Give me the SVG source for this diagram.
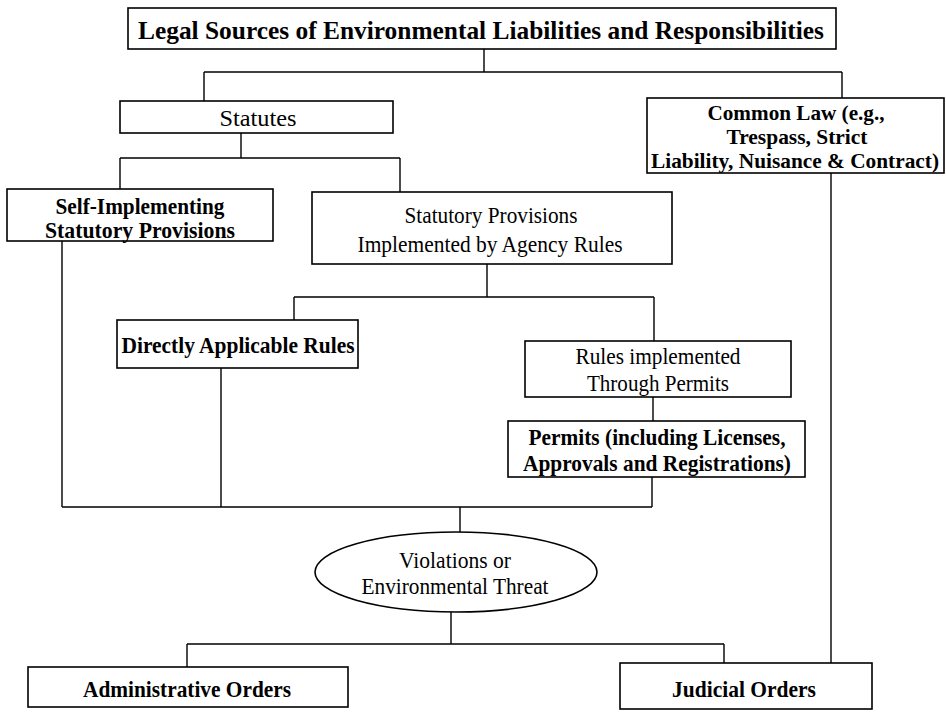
<svg xmlns="http://www.w3.org/2000/svg" width="946" height="713" viewBox="0 0 946 713">
<style>
.box{fill:#fff;stroke:#000;stroke-width:1.6}
.t{font-family:"Liberation Serif","Times New Roman",serif;font-size:23.5px;fill:#000;text-anchor:middle}
.b{font-weight:bold}
.cl{font-size:21px}
.c{fill:none;stroke:#000;stroke-width:1.4}
</style>
<rect width="946" height="713" fill="#fff"/>
<g id="connectors" class="c">
<path d="M484,49V72M204,72H842M204,72V101M842,72V98"/>
<path d="M241,133V158M120,158H400M120,158V189M400,158V192"/>
<path d="M487,264V297M294,297H654M294,297V320M654,297V341"/>
<path d="M653,397V421"/>
<path d="M62,241V507M221,368V507M652,477V507M62,507H652"/>
<path d="M460,507V532"/>
<path d="M451,612V644M187,644H724M187,644V667M724,644V663"/>
<path d="M831,173V663"/>
</g>
<g id="title">
<rect class="box" x="128" y="8" width="708" height="41"/>
<text class="t b" x="481" y="39" style="font-size:25.5px" textLength="686" lengthAdjust="spacingAndGlyphs">Legal Sources of Environmental Liabilities and Responsibilities</text>
</g>
<g id="statutes">
<rect class="box" x="120" y="101" width="273" height="32"/>
<text class="t" x="258" y="126" textLength="77" lengthAdjust="spacingAndGlyphs">Statutes</text>
</g>
<g id="common-law">
<rect class="box" x="647" y="98" width="297" height="75"/>
<text class="t b cl" x="796" y="120" textLength="177" lengthAdjust="spacingAndGlyphs">Common Law (e.g.,</text>
<text class="t b cl" x="797" y="144" textLength="141" lengthAdjust="spacingAndGlyphs">Trespass, Strict</text>
<text class="t b cl" x="795" y="168" textLength="288" lengthAdjust="spacingAndGlyphs">Liability, Nuisance &amp; Contract)</text>
</g>
<g id="self-implementing">
<rect class="box" x="7" y="189" width="266" height="52"/>
<text class="t b" x="140" y="214" textLength="169" lengthAdjust="spacingAndGlyphs">Self-Implementing</text>
<text class="t b" x="140" y="238" textLength="190" lengthAdjust="spacingAndGlyphs">Statutory Provisions</text>
</g>
<g id="statutory-provisions">
<rect class="box" x="312" y="192" width="360" height="72"/>
<text class="t" x="491" y="223" textLength="173" lengthAdjust="spacingAndGlyphs">Statutory Provisions</text>
<text class="t" x="490" y="252" textLength="265" lengthAdjust="spacingAndGlyphs">Implemented by Agency Rules</text>
</g>
<g id="directly-applicable">
<rect class="box" x="117" y="320" width="241" height="48"/>
<text class="t b" x="238" y="353" textLength="233" lengthAdjust="spacingAndGlyphs">Directly Applicable Rules</text>
</g>
<g id="rules-permits">
<rect class="box" x="525" y="341" width="266" height="56"/>
<text class="t" x="658" y="364" textLength="165" lengthAdjust="spacingAndGlyphs">Rules implemented</text>
<text class="t" x="658" y="391" textLength="142" lengthAdjust="spacingAndGlyphs">Through Permits</text>
</g>
<g id="permits">
<rect class="box" x="508" y="421" width="297" height="56"/>
<text class="t b" x="657" y="445" textLength="257" lengthAdjust="spacingAndGlyphs">Permits (including Licenses,</text>
<text class="t b" x="657" y="471" textLength="268" lengthAdjust="spacingAndGlyphs">Approvals and Registrations)</text>
</g>
<g id="violations">
<ellipse class="box" cx="456" cy="572" rx="141" ry="40"/>
<text class="t" x="455" y="568" textLength="112" lengthAdjust="spacingAndGlyphs">Violations or</text>
<text class="t" x="455" y="594" textLength="187" lengthAdjust="spacingAndGlyphs">Environmental Threat</text>
</g>
<g id="administrative-orders">
<rect class="box" x="28" y="667" width="320" height="40"/>
<text class="t b" x="187" y="697" textLength="208" lengthAdjust="spacingAndGlyphs">Administrative Orders</text>
</g>
<g id="judicial-orders">
<rect class="box" x="620" y="663" width="252" height="46"/>
<text class="t b" x="744" y="697" textLength="144" lengthAdjust="spacingAndGlyphs">Judicial Orders</text>
</g>
</svg>
